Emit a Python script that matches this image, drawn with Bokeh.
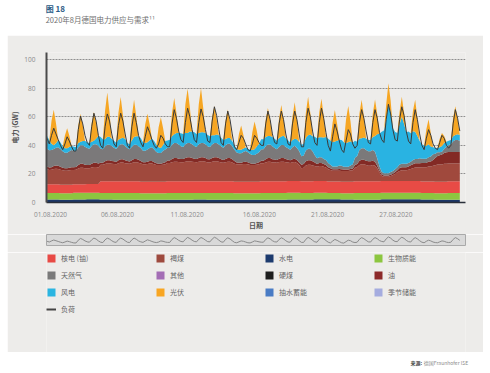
import numpy as np
from bokeh.plotting import figure
from bokeh.models import (ColumnDataSource, Range1d, Label, Legend, LegendItem,
                          FixedTicker)
from bokeh.layouts import column
from bokeh.embed import file_html
from bokeh.resources import INLINE

# ---------------- data (GW), August 2020, 6 samples per day (01,05,09,13,17,21 h) ----------
sample_hours = [1, 5, 9, 13, 17, 21]

hydro_daily = [2.1, 2.0, 2.1, 2.2, 2.1, 2.0, 2.0, 1.9, 1.9, 2.0, 2.0, 2.1, 2.0, 2.0, 1.9, 1.9,
               2.0, 2.0, 2.1, 2.1, 2.2, 2.2, 2.1, 2.0, 2.0, 2.2, 2.3, 2.2, 2.1, 2.0, 2.0]
biomass_daily = [4.6, 4.5, 4.7, 4.7, 4.6, 4.6, 4.7, 4.5, 4.5, 4.7, 4.7, 4.6, 4.6, 4.6, 4.5, 4.5,
                 4.6, 4.7, 4.7, 4.6, 4.6, 4.4, 4.4, 4.6, 4.6, 4.7, 4.6, 4.6, 4.5, 4.5, 4.6]
nuclear_daily = [6.0, 6.0, 6.0, 6.1, 8.1, 8.2, 8.2, 8.2, 8.1, 8.2, 8.2, 8.2, 8.2, 8.2, 8.1, 8.1,
                 8.2, 8.2, 8.2, 8.2, 8.2, 8.1, 8.1, 8.2, 8.2, 8.2, 8.2, 8.2, 8.1, 8.1, 8.2]

lignite = [
    [10.5, 10.0, 10.2, 10.8, 11.0, 10.8], [10.5, 10.0, 9.8, 9.8, 10.0, 10.2],
    [10.0, 10.2, 11.0, 11.5, 11.5, 11.2], [11.0, 11.0, 11.5, 11.8, 11.8, 11.5],
    [11.7, 11.7, 12.2, 12.7, 12.7, 12.4], [12.2, 12.0, 12.7, 13.2, 13.2, 12.7],
    [12.4, 12.2, 12.7, 13.2, 13.2, 13.0], [12.7, 12.2, 12.2, 12.4, 12.7, 12.7],
    [12.2, 11.7, 11.7, 11.7, 12.0, 12.2], [12.7, 12.7, 13.2, 13.7, 13.7, 13.4],
    [13.2, 13.2, 13.7, 14.0, 14.0, 13.7], [13.4, 13.2, 13.7, 14.0, 14.0, 13.7],
    [13.2, 13.2, 13.7, 14.0, 14.0, 13.7], [13.2, 13.0, 13.4, 13.7, 13.7, 13.2],
    [12.7, 12.2, 12.2, 12.2, 12.4, 12.4], [12.2, 11.7, 11.7, 11.7, 12.0, 12.2],
    [12.7, 12.7, 13.2, 13.7, 13.7, 13.2], [13.2, 13.0, 13.4, 13.7, 13.7, 13.2],
    [13.0, 12.7, 13.2, 13.4, 12.7, 11.2], [9.0, 9.5, 11.0, 11.5, 11.5, 11.0],
    [10.5, 10.0, 10.5, 10.5, 10.0, 9.5], [8.5, 8.0, 7.5, 7.5, 7.5, 7.5],
    [7.5, 7.5, 7.5, 7.5, 7.8, 8.0], [9.5, 10.0, 11.5, 12.0, 12.0, 11.5],
    [11.0, 11.0, 11.5, 11.0, 9.0, 6.0], [3.5, 3.0, 3.0, 3.0, 3.5, 4.0],
    [5.0, 6.0, 7.0, 7.5, 7.5, 7.5], [8.0, 8.5, 9.0, 9.5, 9.5, 9.5],
    [10.0, 10.0, 10.0, 10.5, 10.5, 11.0], [11.5, 12.0, 12.0, 12.0, 12.5, 12.5],
    [12.5, 12.5, 12.5, 12.5, 12.5, 12.5]]

hard_coal = [
    [2.0, 1.8, 1.8, 2.0, 2.2, 2.2], [2.0, 1.8, 1.6, 1.6, 1.8, 2.0],
    [1.8, 1.8, 2.4, 2.8, 2.8, 2.5], [2.2, 2.2, 2.6, 3.0, 3.0, 2.8],
    [1.3, 1.3, 1.8, 2.0, 2.0, 1.8], [1.8, 1.6, 2.0, 2.3, 2.3, 2.0],
    [1.8, 1.6, 2.0, 2.3, 2.3, 2.0], [1.8, 1.4, 1.4, 1.6, 1.8, 1.8],
    [1.4, 1.2, 1.0, 1.0, 1.2, 1.4], [1.8, 1.8, 2.3, 2.6, 2.6, 2.3],
    [2.3, 2.3, 2.6, 2.8, 2.8, 2.6], [2.3, 2.3, 2.6, 2.8, 2.8, 2.6],
    [2.3, 2.3, 2.6, 2.8, 2.8, 2.6], [2.3, 2.0, 2.3, 2.6, 2.6, 2.3],
    [1.8, 1.3, 1.2, 1.2, 1.4, 1.6], [1.4, 1.2, 1.0, 1.0, 1.2, 1.4],
    [1.8, 1.8, 2.3, 2.6, 2.6, 2.3], [2.0, 1.8, 2.3, 2.6, 2.6, 2.3],
    [2.0, 1.8, 2.0, 2.3, 2.0, 1.8], [2.5, 2.5, 3.0, 3.2, 3.2, 3.0],
    [2.5, 2.0, 2.2, 2.2, 2.0, 1.8], [1.5, 1.2, 1.0, 1.0, 1.0, 1.2],
    [1.2, 1.0, 1.0, 1.0, 1.0, 1.2], [2.0, 2.2, 3.0, 3.2, 3.2, 3.0],
    [3.0, 3.0, 3.0, 2.8, 2.0, 1.5], [1.0, 0.8, 0.8, 0.8, 0.8, 1.0],
    [1.2, 1.5, 2.0, 2.0, 2.0, 2.0], [2.2, 2.5, 2.8, 3.0, 3.0, 3.0],
    [3.0, 3.0, 3.0, 3.5, 3.5, 4.0], [5.0, 6.0, 6.5, 7.0, 7.5, 8.0],
    [8.0, 8.0, 8.0, 8.0, 8.0, 8.0]]

gas = [
    [12.5, 12.0, 12.0, 12.0, 12.5, 13.0], [12.5, 11.5, 11.0, 11.0, 11.5, 12.0],
    [11.5, 11.0, 12.5, 13.0, 13.0, 12.5], [12.0, 11.5, 12.5, 13.0, 13.0, 12.5],
    [10.0, 9.5, 10.5, 11.0, 11.0, 10.5], [9.5, 9.0, 10.0, 10.5, 10.5, 10.0],
    [9.0, 8.5, 9.5, 10.0, 10.0, 9.5], [9.0, 8.0, 8.0, 8.5, 9.0, 9.5],
    [9.0, 8.0, 7.5, 7.5, 8.5, 9.0], [9.0, 9.0, 10.0, 10.5, 10.5, 10.0],
    [9.0, 8.5, 9.5, 10.0, 10.0, 9.5], [9.0, 8.5, 9.5, 10.0, 10.0, 9.5],
    [9.0, 8.5, 9.5, 10.0, 10.0, 9.5], [9.0, 8.5, 9.5, 10.0, 10.0, 9.0],
    [8.0, 7.0, 6.5, 6.5, 7.0, 7.5], [7.0, 6.5, 6.0, 6.0, 6.5, 7.0],
    [8.0, 8.0, 9.0, 9.5, 9.5, 9.0], [8.0, 7.5, 8.5, 9.0, 9.0, 8.5],
    [8.0, 7.5, 8.5, 9.0, 8.5, 8.0], [6.0, 6.0, 7.5, 8.0, 8.0, 7.0],
    [5.0, 4.0, 4.0, 4.0, 3.5, 3.5], [3.0, 2.5, 2.0, 2.0, 2.0, 2.5],
    [2.5, 2.0, 2.0, 2.0, 2.5, 3.0], [5.0, 5.5, 7.5, 8.0, 8.0, 7.5],
    [7.0, 7.0, 7.5, 7.0, 5.0, 3.0], [2.0, 1.5, 1.5, 1.5, 2.0, 2.0],
    [2.0, 2.0, 2.5, 2.5, 2.5, 2.5], [2.5, 2.5, 3.0, 3.0, 3.0, 3.5],
    [3.0, 3.0, 3.0, 3.0, 3.5, 4.0], [3.0, 2.5, 2.0, 2.0, 3.0, 4.0],
    [5.0, 5.5, 7.5, 8.5, 8.5, 8.0]]

wind = [
    [9.0, 7.0, 4.5, 2.5, 3.0, 5.0], [4.5, 3.5, 3.0, 3.0, 3.0, 3.0],
    [3.0, 3.0, 3.0, 2.5, 3.0, 4.0], [4.0, 4.0, 3.0, 2.5, 4.0, 7.0],
    [8.0, 7.0, 5.0, 5.5, 5.5, 5.0], [5.0, 4.5, 4.5, 4.0, 4.5, 5.0],
    [3.5, 3.5, 4.5, 5.5, 6.0, 7.0], [7.0, 6.0, 5.5, 5.0, 5.5, 6.0],
    [6.0, 5.0, 4.0, 3.5, 4.0, 6.0], [5.0, 5.5, 6.0, 6.0, 7.0, 8.0],
    [9.0, 9.0, 8.0, 7.0, 8.0, 9.0], [9.5, 9.0, 8.0, 7.5, 7.5, 8.0],
    [8.0, 7.5, 6.5, 5.5, 6.0, 6.5], [6.0, 5.5, 4.5, 4.0, 4.0, 3.5],
    [3.0, 2.5, 2.5, 2.5, 2.5, 2.5], [2.5, 3.0, 3.5, 4.0, 5.0, 6.0],
    [7.0, 7.0, 6.5, 6.0, 6.0, 6.5], [6.5, 6.0, 6.0, 6.0, 6.5, 6.0],
    [5.5, 5.0, 5.0, 5.0, 6.0, 6.5], [8.0, 8.0, 9.0, 9.5, 10.0, 10.5],
    [13.0, 14.0, 14.0, 14.0, 15.0, 16.0], [17.0, 17.0, 17.0, 17.5, 18.0, 18.0],
    [18.0, 17.0, 16.5, 17.0, 17.0, 15.0], [12.0, 10.0, 8.0, 7.0, 7.5, 8.0],
    [8.0, 8.0, 9.0, 11.0, 17.0, 23.0], [28.0, 30.0, 38.0, 48.0, 42.0, 30.0],
    [26.0, 24.0, 28.0, 33.0, 28.0, 22.0], [22.0, 20.0, 20.0, 19.0, 16.0, 12.0],
    [10.0, 9.0, 9.0, 9.0, 7.0, 5.0], [4.0, 3.0, 3.5, 4.0, 4.0, 3.5],
    [3.0, 3.0, 3.5, 3.5, 4.0, 4.0]]

solar = [
    [0, 0, 16, 25, 14, 0], [0, 0, 9, 14, 8, 0], [0, 0, 12.5, 19.5, 11, 0],
    [0, 0, 13, 20, 11, 0], [0, 0, 20, 31, 17, 0], [0, 0, 19, 29, 16, 0],
    [0, 0, 17, 26, 14, 0], [0, 0, 13, 20, 11, 0], [0, 0, 14, 21.5, 12, 0],
    [0, 0, 16.5, 25.5, 14, 0], [0, 0, 20, 31, 17, 0], [0, 0, 20, 31, 17, 0],
    [0, 0, 13, 20.5, 11, 0], [0, 0, 13, 20, 11, 0], [0, 0, 11, 17, 9.5, 0],
    [0, 0, 12.5, 19.5, 11, 0], [0, 0, 12.5, 19.5, 11, 0], [0, 0, 14, 22, 12, 0],
    [0, 0, 16.5, 25.5, 14, 0], [0, 0, 17.5, 27, 15, 0], [0, 0, 17.5, 27, 15, 0],
    [0, 0, 14, 22, 12, 0], [0, 0, 16.5, 25.5, 14, 0], [0, 0, 17.5, 27, 15, 0],
    [0, 0, 16.5, 25.5, 14, 0], [0, 0, 10, 15, 8, 0], [0, 0, 9, 14, 8, 0],
    [0, 0, 14.5, 22.5, 12.5, 0], [0, 0, 11.5, 17.5, 9.5, 0], [0, 0, 6, 9, 5, 0],
    [0, 0, 13, 20, 11, 0]]

load = [
    [45, 41, 47, 52, 48, 44], [40, 37, 41, 46, 43, 39], [36, 36, 51, 60.5, 55, 47],
    [42, 40, 53, 62.5, 57, 47], [40, 38, 53, 62, 57, 48], [41, 39, 54, 62.5, 57, 48],
    [40, 38, 53, 62.5, 56, 47], [42, 39, 46, 53, 49, 44], [40, 38, 41, 47, 45, 41],
    [39, 39, 55, 65, 59, 50], [44, 42, 56, 66, 60, 51], [44, 42, 56, 65.5, 60, 51],
    [43, 42, 57, 67, 61, 51], [42, 40, 55, 64, 58, 48], [39, 37, 42, 47, 45, 41],
    [37, 36, 41, 47, 45, 42], [40, 40, 55, 64, 58, 48], [42, 41, 55, 64, 58, 48],
    [41, 40, 55, 64, 58, 48], [39, 39, 56, 66, 60, 50], [42, 40, 56, 66, 59, 49],
    [40, 36, 46, 55, 50, 43], [37, 35, 43, 51, 48, 41], [38, 40, 56, 65, 59, 50],
    [42, 41, 56, 65, 59, 49], [44, 42, 58, 68.8, 62, 51], [44, 43, 58, 67, 61, 50],
    [43, 41, 56, 65, 58, 48], [40, 37, 45, 51, 47, 41], [38, 37, 42, 47, 45, 40],
    [38, 40, 55, 65, 59, 50]]

tick_days = [0.3, 5.3, 10.5, 15.9, 21.0, 26.1]
tick_labels = ["01.08.2020", "06.08.2020", "11.08.2020", "16.08.2020", "21.08.2020", "27.08.2020"]

legend_names = ["核电 (铀)", "褐煤", "水电", "生物质能", "天然气", "其他", "硬煤", "油",
                "风电", "光伏", "抽水蓄能", "季节储能", "负荷"]
legend_colors = ["#e84a45", "#9e4a3e", "#1d3b6e", "#8cc63f", "#7a7a7a", "#a36db5", "#1e1e1e",
                 "#8c2a2a", "#2bb5e1", "#f8a623", "#4a7cc5", "#a5acdf", "#444444"]

# ---------------- build source ----------------
n_days = len(load)
per_day = len(sample_hours)
x = np.array([d + h / 24.0 for d in range(n_days) for h in sample_hours])

stack_names = ["hydro", "biomass", "nuclear", "lignite", "coal", "gas", "wind", "solar"]
stack_colors = ["#1c3767", "#8cc540", "#e84b45", "#a0493d", "#832a25", "#7b797a", "#29b3e2", "#f6a623"]
data = dict(
    x=x,
    hydro=np.repeat(hydro_daily, per_day),
    biomass=np.repeat(biomass_daily, per_day),
    nuclear=np.repeat(nuclear_daily, per_day),
    lignite=np.ravel(lignite),
    coal=np.ravel(hard_coal),
    gas=np.ravel(gas),
    wind=np.ravel(wind),
    solar=np.ravel(solar),
    load=np.ravel(load),
)
src = ColumnDataSource(data)

PANEL = "#edecea"
CJK = "Noto Sans CJK SC"
LAT = "Open Sans"
W = 490
PW = 476  # grey panel width

# ---------------- header ----------------
hdr = figure(width=W, height=35, x_range=Range1d(0, W), y_range=Range1d(0, 35),
             toolbar_location=None, output_backend="svg", min_border=0,
             x_axis_location=None, y_axis_location=None, outline_line_color=None,
             background_fill_color="white", border_fill_color="white")
hdr.grid.visible = False
hdr.add_layout(Label(x=7, y=33, text="图 18", text_font=CJK, text_font_size="8px",
                     text_font_style="bold", text_color="#2b5b86", text_baseline="top"))
hdr.add_layout(Label(x=7, y=22, text="2020年8月德国电力供应与需求¹¹", text_font=CJK,
                     text_font_size="7.5px", text_color="#707070", text_baseline="top"))

# ---------------- main chart ----------------
p = figure(width=PW, height=199, x_range=Range1d(0, 31.3), y_range=Range1d(0, 105),
           toolbar_location=None, output_backend="svg", margin=(0, 0, 0, 7),
           min_border_left=36, min_border_right=18, min_border_top=17, min_border_bottom=32,
           background_fill_color=PANEL, border_fill_color=PANEL, outline_line_color=None)
p.varea_stack(stackers=stack_names, x="x", color=stack_colors, source=src)
p.line("x", "load", source=src, line_color="#3a3a3a", line_width=1)

p.xgrid.visible = False
p.ygrid.grid_line_color = "#8f8f8f"
p.ygrid.grid_line_dash = "2 1"
p.ygrid.grid_line_width = 1

p.yaxis.ticker = FixedTicker(ticks=[0, 20, 40, 60, 80, 100])
p.xaxis.ticker = FixedTicker(ticks=tick_days)
p.xaxis.major_label_overrides = {t: l for t, l in zip(tick_days, tick_labels)}
for ax in (p.xaxis, p.yaxis):
    ax.major_tick_line_color = None
    ax.minor_tick_line_color = None
    ax.major_label_text_font = LAT
    ax.major_label_text_font_size = "6.5px"
    ax.major_label_text_color = "#8a8a8a"
    ax.axis_label_text_font = CJK
    ax.axis_label_text_font_size = "7px"
    ax.axis_label_text_font_style = "bold"
    ax.axis_label_text_color = "#555555"
p.yaxis.axis_label = "电力 (GW)"
p.xaxis.axis_label = "日期"
p.yaxis.axis_line_color = "#4a4a4a"
p.yaxis.axis_line_width = 2
p.xaxis.axis_line_color = "#2a2f3a"
p.xaxis.axis_line_width = 1.5
p.yaxis.major_label_standoff = 5
p.yaxis.axis_label_standoff = 1
p.xaxis.major_label_standoff = 3
p.xaxis.axis_label_standoff = 0

# ---------------- navigator strip ----------------
nv = figure(width=PW, height=18, x_range=Range1d(0, 31.3), y_range=Range1d(22, 82),
            toolbar_location=None, output_backend="svg", margin=(0, 0, 0, 7),
            min_border_left=36, min_border_right=17, min_border_top=0, min_border_bottom=7,
            x_axis_location=None, y_axis_location=None,
            background_fill_color="#d9d9d9", border_fill_color=PANEL,
            outline_line_color="#a9a9a9")
nv.grid.visible = False
nv.line("x", "load", source=src, line_color="#8a8a8a", line_width=1)

# ---------------- legend ----------------
lf = figure(width=PW, height=100, x_range=Range1d(0, 1), y_range=Range1d(0, 1),
            toolbar_location=None, output_backend="svg", margin=(0, 0, 0, 7),
            min_border_left=35, min_border_right=0, min_border_top=0, min_border_bottom=0,
            x_axis_location=None, y_axis_location=None, outline_line_color=None,
            background_fill_color=PANEL, border_fill_color=PANEL)
lf.grid.visible = False
items = []
for name, col in zip(legend_names, legend_colors):
    # swatch renderers sit outside the visible range; only their legend glyph shows
    if name == "负荷":
        r = lf.line(x=[5, 6], y=[5, 5], line_color=col, line_width=2)
    else:
        r = lf.quad(left=[5], right=[6], top=[6], bottom=[5], fill_color=col, line_color=None)
    items.append(LegendItem(label=name, renderers=[r]))
leg = Legend(items=items, location="top_left", orientation="horizontal", ncols=4,
             glyph_width=10, glyph_height=10, label_standoff=5, label_width=89,
             label_height=12, spacing=5, padding=3, margin=0,
             border_line_color=None, background_fill_alpha=0,
             label_text_font=CJK, label_text_font_size="7px", label_text_color="#666666")
lf.add_layout(leg)

# ---------------- footer ----------------
ft = figure(width=W, height=21, x_range=Range1d(0, W), y_range=Range1d(0, 21),
            toolbar_location=None, output_backend="svg", min_border=0,
            x_axis_location=None, y_axis_location=None, outline_line_color=None,
            background_fill_color="white", border_fill_color="white")
ft.grid.visible = False
ft.add_layout(Label(x=485, y=11, text="德国Fraunhofer ISE", text_font=CJK, text_font_size="5px",
                    text_color="#8a8a8a", text_align="right", text_baseline="middle"))
ft.add_layout(Label(x=433, y=11, text="来源:", text_font=CJK, text_font_size="5px",
                    text_font_style="bold", text_color="#444444", text_align="right",
                    text_baseline="middle"))

layout = column(hdr, p, nv, lf, ft, spacing=0)
open("out.html", "w").write(file_html(layout, INLINE))
